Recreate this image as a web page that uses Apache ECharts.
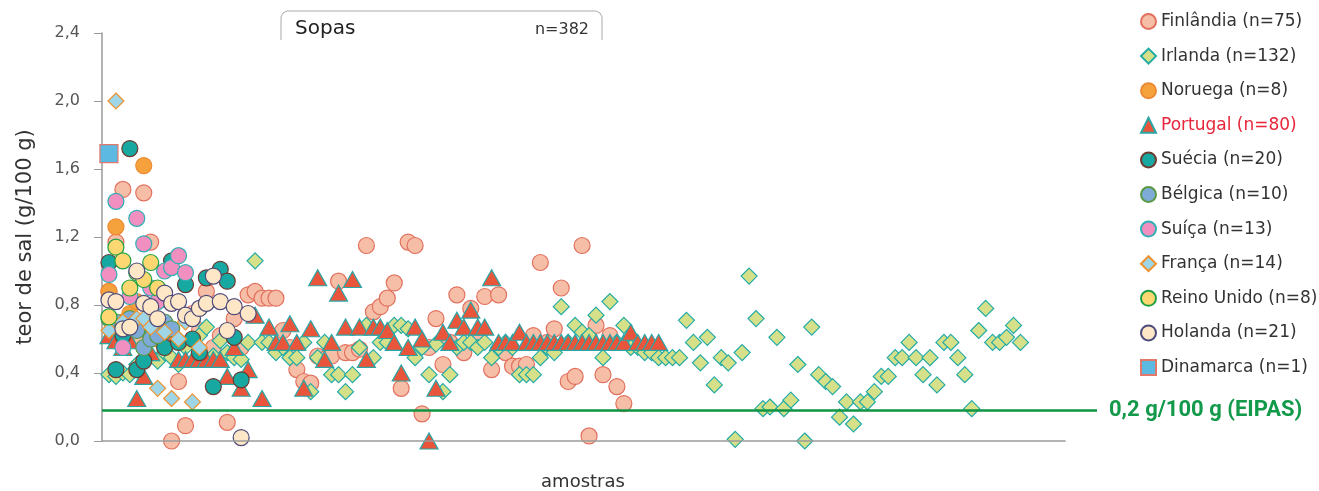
<!DOCTYPE html>
<html>
<head>
<meta charset="utf-8">
<script src="https://cdn.jsdelivr.net/npm/echarts@6/dist/echarts.min.js"></script>
<style>
  html, body { margin: 0; padding: 0; background: #fff; }
  #chart { width: 1319px; height: 491px; }
</style>
</head>
<body>
<div id="chart"></div>
<script>
// teor de sal por amostra, indexado 1..n dentro de cada país
var finlandia = [0.88, 1.17, 1.48, 0.72, 0.62, 1.46, 1.17, 0.62, 0.68, 0.00,
  0.35, 0.09, 0.75, 0.65, 0.88, 0.55, 0.62, 0.11, 0.72, 0.55,
  0.86, 0.88, 0.84, 0.84, 0.84, 0.65, 0.55, 0.42, 0.35, 0.34,
  0.50, 0.48, 0.50, 0.94, 0.52, 0.52, 0.54, 1.15, 0.76, 0.79,
  0.84, 0.93, 0.31, 1.17, 1.15, 0.16, 0.55, 0.72, 0.45, 0.58,
  0.86, 0.52, 0.78, 0.62, 0.85, 0.42, 0.86, 0.52, 0.44, 0.44,
  0.45, 0.62, 1.05, 0.58, 0.66, 0.90, 0.35, 0.38, 1.15, 0.03,
  0.68, 0.39, 0.62, 0.32, 0.22];
var irlanda = [0.39, 0.38, 0.40, 0.39, 0.45, 0.55, 0.50, 0.47, 0.52, 0.49,
  0.45, 0.55, 0.59, 0.62, 0.67, 0.50, 0.59, 0.52, 0.49, 0.48, 0.58, 1.06,
  0.58, 0.58, 0.52, 0.55, 0.49, 0.49, 0.58, 0.29, 0.49, 0.58,
  0.39, 0.39, 0.29, 0.39, 0.55, 0.68, 0.49, 0.58, 0.58, 0.68,
  0.68, 0.66, 0.49, 0.55, 0.39, 0.57, 0.29, 0.39, 0.55, 0.58,
  0.58, 0.55, 0.58, 0.49, 0.55, 0.58, 0.55, 0.39, 0.39, 0.39,
  0.49, 0.55, 0.52, 0.79, 0.58, 0.68, 0.64, 0.62, 0.74, 0.49,
  0.82, 0.58, 0.68, 0.55, 0.55, 0.52, 0.52, 0.49, 0.49, 0.49, 0.49,
  0.71, 0.58, 0.46, 0.61, 0.33, 0.49, 0.46, 0.01, 0.52, 0.97,
  0.72, 0.19, 0.20, 0.61, 0.19, 0.24, 0.45, 0.00, 0.67, 0.39,
  0.35, 0.32, 0.14, 0.23, 0.10, 0.23, 0.23, 0.29, 0.38, 0.38,
  0.49, 0.49, 0.58, 0.49, 0.39, 0.49, 0.33, 0.58, 0.58, 0.49,
  0.39, 0.19, 0.65, 0.78, 0.58, 0.58, 0.61, 0.68, 0.58];
var noruega = [0.88, 1.26, 0.70, 0.75, 0.82, 1.62, 0.65, 0.60];
var portugal = [0.62, 0.59, 0.55, 0.59, 0.25, 0.38, 0.52, 0.65, 0.62, 0.59,
  0.48, 0.48, 0.48, 0.48, 0.48, 0.48, 0.48, 0.38, 0.55, 0.31,
  0.42, 0.74, 0.25, 0.67, 0.58, 0.58, 0.69, 0.58, 0.31, 0.66,
  0.96, 0.48, 0.58, 0.87, 0.67, 0.95, 0.67, 0.48, 0.67, 0.67,
  0.65, 0.58, 0.40, 0.55, 0.67, 0.60, 0.00, 0.31, 0.64, 0.58,
  0.71, 0.67, 0.77, 0.67, 0.67, 0.96, 0.58, 0.58, 0.58, 0.64,
  0.58, 0.58, 0.58, 0.58, 0.58, 0.58, 0.58, 0.58, 0.58, 0.58,
  0.58, 0.58, 0.58, 0.58, 0.58, 0.64, 0.58, 0.58, 0.58, 0.58];
var suecia = [1.05, 0.42, 0.62, 1.72, 0.42, 0.47, 0.62, 0.66, 0.55, 1.06,
  0.58, 0.92, 0.60, 0.52, 0.96, 0.32, 1.01, 0.94, 0.61, 0.36];
var belgica = [0.72, 0.70, 0.68, 0.72, 0.65, 0.55, 0.60, 0.62, 0.70, 0.66];
var suica = [0.98, 1.41, 0.55, 0.85, 1.31, 1.16, 0.90, 0.82, 1.00, 1.02, 1.09, 0.99, 0.72];
var franca = [0.65, 2.00, 0.70, 0.68, 0.72, 0.72, 0.67, 0.31, 0.64, 0.25, 0.60, 0.70, 0.23, 0.55];
var reinoUnido = [0.73, 1.14, 1.06, 0.90, 0.99, 0.95, 1.05, 0.90];
var holanda = [0.83, 0.82, 0.66, 0.67, 1.00, 0.81, 0.79, 0.72, 0.87, 0.81,
  0.82, 0.74, 0.72, 0.78, 0.81, 0.97, 0.82, 0.65, 0.79, 0.02, 0.75];
var dinamarca = [1.69];

var yTicks = [0, 0.4, 0.8, 1.2, 1.6, 2.0, 2.4];
var limiteEipas = 0.18;
var xMax = 143;       // extensão da linha de referência
var xAxisEnd = 138.5; // fim da linha do eixo x

(function() {
  var chart = echarts.init(document.getElementById('chart'), null, { renderer: 'canvas' });
  var font = 'DejaVu Sans';

  function pts(values) {
    return values.map(function(v, i) { return [i + 1, v]; });
  }

  function scatter(name, values, symbol, size, fill, border) {
    return {
      name: name,
      type: 'scatter',
      symbol: symbol,
      symbolSize: size,
      data: pts(values),
      z: 3,
      itemStyle: { color: fill, borderColor: border, borderWidth: 1.2, opacity: 1 },
      emphasis: { disabled: true }
    };
  }

  var series = [
    scatter('Finlândia (n=75)', finlandia, 'circle', 16, '#f6bea6', '#e2705e'),
    scatter('Irlanda (n=132)', irlanda, 'diamond', 16, '#d6e088', '#21aaa6'),
    scatter('Noruega (n=8)', noruega, 'circle', 16, '#f6a23c', '#ec8a34'),
    scatter('Portugal (n=80)', portugal, 'triangle', [18, 16], '#e8553a', '#2aa6a6'),
    scatter('Suécia (n=20)', suecia, 'circle', 16, '#18a8a2', '#6e3a30'),
    scatter('Bélgica (n=10)', belgica, 'circle', 16, '#7eaad8', '#5a9a46'),
    scatter('Suíça (n=13)', suica, 'circle', 16, '#f08fc0', '#2eb0b4'),
    scatter('França (n=14)', franca, 'diamond', 16, '#9ed6e8', '#f0922e'),
    scatter('Reino Unido (n=8)', reinoUnido, 'circle', 16, '#fdd872', '#1fa044'),
    scatter('Holanda (n=21)', holanda, 'circle', 16, '#fde7c6', '#4d4a7c'),
    scatter('Dinamarca (n=1)', dinamarca, 'rect', 18, '#5bb9e2', '#e2786a')
  ];

  series.push({
    name: 'ref',
    type: 'line',
    data: [],
    z: 2,
    markLine: {
      silent: true,
      symbol: 'none',
      animation: false,
      data: [
        [
          { coord: [0, limiteEipas], lineStyle: { color: '#0f9444', width: 2.5, type: 'solid' },
            label: { show: true, position: 'end', distance: 12, formatter: '0,2 g/100 g (EIPAS)',
              color: '#13994a', fontWeight: 'bold', fontSize: 22, fontFamily: 'Roboto' } },
          { coord: [xMax, limiteEipas] }
        ],
        [
          { coord: [0, 0], lineStyle: { color: '#9a9a9a', width: 1.5, type: 'solid' }, label: { show: false } },
          { coord: [xAxisEnd, 0] }
        ]
      ]
    }
  });

  var legendData = series.slice(0, 11).map(function(s) {
    var item = { name: s.name };
    if (s.name.indexOf('Portugal') === 0) item.textStyle = { color: '#e8253a' };
    return item;
  });

  chart.setOption({
    animation: false,
    backgroundColor: '#fff',
    grid: { left: 102, right: 222, top: 33, bottom: 50, outerBoundsMode: 'none' },
    legend: {
      orient: 'vertical',
      left: 1135,
      top: 8,
      itemWidth: 15,
      itemHeight: 15,
      itemGap: 17.6,
      data: legendData,
      textStyle: { fontSize: 17, lineHeight: 17, color: '#333', fontFamily: font }
    },
    xAxis: {
      type: 'value',
      min: 0,
      max: xMax,
      name: 'amostras',
      nameLocation: 'middle',
      nameGap: 32,
      nameTextStyle: { fontSize: 18, color: '#333', fontFamily: font, padding: [0, 33, 0, 0] },
      axisLine: { show: false },
      axisTick: { show: false },
      axisLabel: { show: false },
      splitLine: { show: false }
    },
    yAxis: {
      type: 'value',
      min: yTicks[0],
      max: yTicks[yTicks.length - 1],
      interval: 0.4,
      name: 'teor de sal (g/100 g)',
      nameLocation: 'middle',
      nameGap: 66,
      nameTextStyle: { fontSize: 21, color: '#333', fontFamily: font },
      axisLine: { show: true, lineStyle: { color: '#9a9a9a', width: 1.5 } },
      axisTick: { show: true, length: 8, lineStyle: { color: '#9a9a9a' } },
      axisLabel: {
        margin: 22,
        color: '#555',
        fontSize: 16,
        fontFamily: font,
        formatter: function(v) { return v.toFixed(1).replace('.', ','); }
      },
      splitLine: { show: false }
    },
    graphic: [
      {
        type: 'polyline',
        silent: true,
        shape: { points: [[281, 40], [281, 17], [283, 13], [287, 11], [596, 11], [600, 13], [602, 17], [602, 40]] },
        style: { stroke: '#aaa', fill: null, lineWidth: 1 }
      },
      {
        type: 'text', left: 295, top: 19, silent: true,
        style: { text: 'Sopas', fontSize: 20, fill: '#222', fontFamily: font }
      },
      {
        type: 'text', right: 1319 - 589, top: 22, silent: true,
        style: { text: 'n=382', fontSize: 16, fill: '#333', fontFamily: font }
      }
    ],
    series: series
  });
})();
</script>
</body>
</html>
